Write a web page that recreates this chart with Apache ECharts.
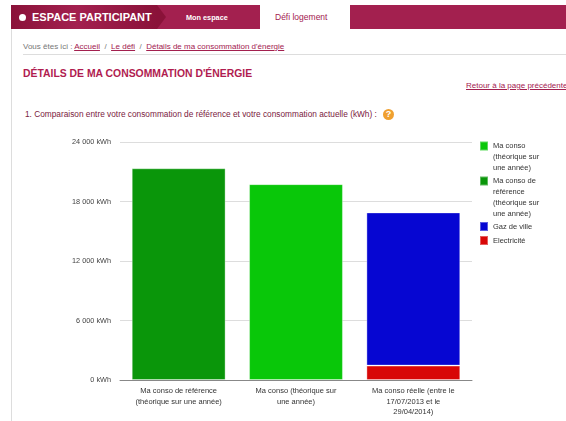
<!DOCTYPE html>
<html>
<head>
<meta charset="utf-8">
<title>Détails de ma consommation d'énergie</title>
<script src="https://cdn.jsdelivr.net/npm/echarts@6/dist/echarts.min.js"></script>
<style>
html, body { margin: 0; padding: 0; background: #fff; }
body { width: 566px; height: 421px; position: relative; overflow: hidden; font-family: "Liberation Sans", Arial, sans-serif; }
.abs { position: absolute; white-space: nowrap; }
.lnk { color: #a3204f; text-decoration: underline; }
#chart { position: absolute; left: 0; top: 0; width: 566px; height: 421px; }
</style>
</head>
<body>
<!-- bandeau du haut -->
<div class="abs" style="left:11px;top:5px;width:249px;height:24px;background:#a3204f"></div>
<div class="abs" style="left:11px;top:5px;width:146px;height:24px;background:linear-gradient(90deg,#8a1239,#a3204f 45%,#8a1239)"></div>
<div class="abs" style="left:157px;top:5px;width:0;height:0;border-left:9px solid #8a1239;border-top:12px solid transparent;border-bottom:12px solid transparent"></div>
<div class="abs" style="left:350px;top:5px;width:216px;height:24px;background:#a3204f"></div>
<div class="abs" style="left:19px;top:14px;width:7px;height:7px;border-radius:4px;background:#fff"></div>
<div class="abs" style="left:32px;top:11px;font-size:11px;font-weight:bold;color:#fff">ESPACE PARTICIPANT</div>
<div class="abs" style="left:186px;top:13px;font-size:7.3px;font-weight:bold;color:#fff">Mon espace</div>
<div class="abs" style="left:275px;top:12px;font-size:8.5px;color:#a3204f">Défi logement</div>
<div class="abs" style="left:11px;top:29px;width:1px;height:392px;background:#ddd"></div>

<div class="abs" style="left:23px;top:42px;font-size:8px;color:#777">Vous êtes ici : <span class="lnk">Accueil</span> &nbsp;/&nbsp; <span class="lnk">Le défi</span> &nbsp;/&nbsp; <span class="lnk">Détails de ma consommation d'énergie</span></div>
<div class="abs" style="left:23px;top:54px;width:543px;height:1px;background:#ddd"></div>
<div class="abs" style="left:23px;top:68px;font-size:10.4px;font-weight:bold;color:#b01c50">DÉTAILS DE MA CONSOMMATION D'ÉNERGIE</div>
<div class="abs lnk" style="left:466px;top:81px;font-size:8px">Retour à la page précédente</div>
<div class="abs" style="left:25px;top:109px;font-size:8.3px;color:#7a1a40">1. Comparaison entre votre consommation de référence et votre consommation actuelle (kWh) :</div>
<div class="abs" style="left:383px;top:109px;width:11px;height:11px;border-radius:6px;background:#f0a030;color:#fff;font-size:9px;font-weight:bold;line-height:11px;text-align:center">?</div>

<div id="chart"></div>

<script>
// Données
const categories = [
  'Ma conso de référence\n(théorique sur une année)',
  'Ma conso (théorique sur\nune année)',
  'Ma conso réelle (entre le\n17/07/2013 et le\n29/04/2014)'
]
const consoTheorique = [null, 19750, null]
const consoReference = [21350, null, null]
const gazDeVille = [null, null, 15450]
const electricite = [null, null, 1450]
const yTicks = { min: 0, max: 24000, interval: 6000 }

const nomTheorique = 'Ma conso\n(théorique sur\nune année)'
const nomReference = 'Ma conso de\nréférence\n(théorique sur\nune année)'
const nomGaz = 'Gaz de ville'
const nomElec = 'Electricité'

const chart = echarts.init(document.getElementById('chart'), null, { renderer: 'canvas' })

const formatKwh = (value) => `${String(value).replace(/\B(?=(\d{3})+$)/g, ' ')} kWh`

const barSeries = (name, data, color) => ({
  name,
  type: 'bar',
  stack: 'total',
  barWidth: '80%',
  data,
  itemStyle: { color, borderColor: 'rgba(255,255,255,0.35)', borderWidth: 1 }
})

// Une légende par entrée : ECharts centre le carré sur le texte, donc on ajoute
// des lignes vides au-dessus pour l'aligner sur la première ligne
const LEGEND_LINE = 11
const legendFor = (name, firstLineCenter) => {
  const lines = name.split('\n').length
  return {
    data: [name],
    orient: 'vertical',
    left: 479,
    top: firstLineCenter - ((2 * lines - 1) * LEGEND_LINE) / 2,
    padding: 0,
    itemWidth: 8,
    itemHeight: 9,
    icon: 'rect',
    formatter: (n) => '\n'.repeat(lines - 1) + n,
    textStyle: { fontSize: 7.5, color: '#333', lineHeight: LEGEND_LINE }
  }
}

chart.setOption({
  animation: false,
  backgroundColor: 'transparent',
  textStyle: { fontFamily: '"Liberation Sans", Arial, sans-serif' },
  grid: { left: 120, right: 94, top: 142, bottom: 41 },
  legend: [
    legendFor(nomTheorique, 146),
    legendFor(nomReference, 181),
    legendFor(nomGaz, 226.5),
    legendFor(nomElec, 240.5)
  ],
  xAxis: {
    type: 'category',
    data: categories,
    axisLine: { lineStyle: { color: '#888', width: 1 } },
    axisTick: { show: false },
    axisLabel: { color: '#333', fontSize: 7.5, lineHeight: 10.5, margin: 6, interval: 0 }
  },
  yAxis: {
    type: 'value',
    min: yTicks.min,
    max: yTicks.max,
    interval: yTicks.interval,
    axisLine: { show: false },
    axisTick: { show: false },
    axisLabel: { color: '#444', fontSize: 7.3, margin: 9, formatter: formatKwh },
    splitLine: { lineStyle: { color: '#ddd', width: 1 } }
  },
  series: [
    barSeries(nomTheorique, consoTheorique, '#09c709'),
    barSeries(nomReference, consoReference, '#0a960a'),
    barSeries(nomElec, electricite, '#d80707'),
    barSeries(nomGaz, gazDeVille, '#0606d2')
  ]
})
</script>
</body>
</html>
